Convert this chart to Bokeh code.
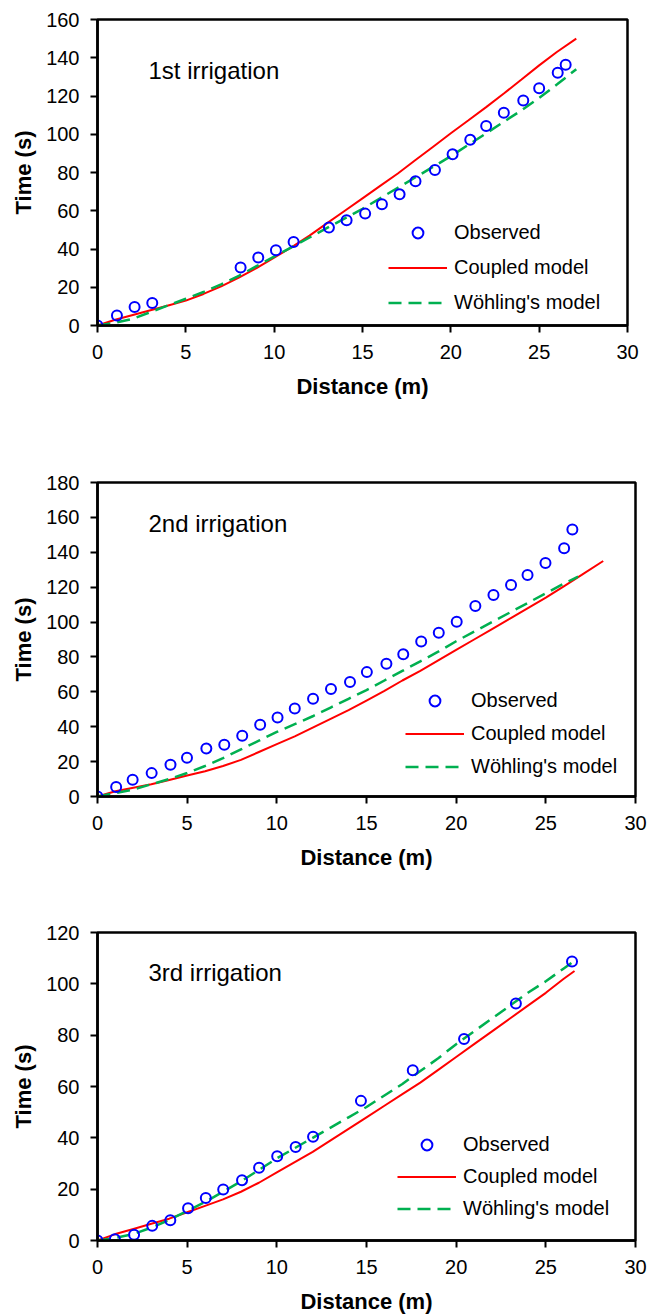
from bokeh.plotting import figure
from bokeh.models import Range1d, Legend, LegendItem, Label, FixedTicker
from bokeh.layouts import column
from bokeh.embed import file_html
from bokeh.resources import INLINE

# ---------------- data ----------------
# 1st irrigation
obs1_x = [0, 1.1, 2.1, 3.1, 8.1, 9.1, 10.1, 11.1, 13.1, 14.1, 15.15, 16.1, 17.1, 18.0, 19.1, 20.1, 21.1, 22.0, 23.0, 24.1, 25.0, 26.05, 26.5]
obs1_y = [0, 5.2, 9.7, 11.8, 30.3, 35.5, 39.3, 43.7, 51.2, 55.0, 58.5, 63.4, 68.6, 75.4, 81.3, 89.5, 97.1, 104.3, 111.2, 117.7, 124.0, 132.1, 136.3]
cpl1_x = [0, 1, 2, 3, 4, 5, 6, 7, 8, 9, 10, 11, 12, 13, 14, 15, 16, 17, 18, 19, 20, 21, 22, 23, 24, 25, 26, 27.1]
cpl1_y = [0, 3, 5.5, 8, 10.5, 13, 16.5, 20.5, 25, 30, 35.5, 41, 47, 53.5, 60, 66.5, 73, 79.5, 86.5, 93.5, 100.5, 107.3, 114.2, 121.3, 128.6, 136.0, 143.0, 150]
woh1_x = [0, 1, 2, 3, 4, 5, 6, 7, 8, 9, 10, 11, 12, 13, 14, 15, 16, 17, 18, 19, 20, 21, 22, 23, 24, 25, 26, 27.1]
woh1_y = [0, 1.5, 3.5, 7, 10.5, 14, 17.5, 21.5, 26, 31, 36, 41, 46, 51, 56, 61, 66.5, 72, 77.5, 83, 88.5, 94.5, 100.5, 106.5, 112.5, 119, 126, 134]

# 2nd irrigation
obs2_x = [0, 1.04, 1.96, 3.02, 4.07, 4.99, 6.07, 7.07, 8.07, 9.07, 10.04, 11.0, 12.02, 13.02, 14.08, 15.02, 16.11, 17.05, 18.05, 19.03, 20.03, 21.07, 22.08, 23.06, 23.98, 24.98, 26.02, 26.48]
obs2_y = [0, 5.4, 9.6, 13.4, 18.2, 22.2, 27.5, 29.6, 34.8, 41.1, 45.3, 50.5, 56.0, 61.6, 65.6, 71.3, 76.1, 81.5, 88.9, 93.9, 100.2, 109.2, 115.5, 121.3, 127.0, 133.9, 142.3, 153.0]
cpl2_x = [0, 1, 2, 3, 4, 5, 6, 7, 8, 9, 10, 11, 12, 13, 14, 15, 16, 17, 18, 19, 20, 21, 22, 23, 24, 25, 26, 27, 28.2]
cpl2_y = [0, 3, 5, 7, 9.5, 12, 14.5, 17.5, 21, 25.5, 30, 34.5, 39.5, 44.5, 49.5, 55, 60.5, 66.5, 72, 78, 84, 90, 96, 102, 108, 114, 120.5, 127, 135]
woh2_x = [0, 1, 2, 3, 4, 5, 6, 7, 8, 9, 10, 11, 12, 13, 14, 15, 16, 17, 18, 19, 20, 21, 22, 23, 24, 25, 26, 26.8]
woh2_y = [0, 2, 4, 7, 10, 13.5, 17.5, 22, 27, 32, 37, 41.5, 46, 51, 56, 61, 66.5, 72, 77.5, 83, 89, 94.5, 100, 105.5, 111, 116.5, 122, 126]

# 3rd irrigation
obs3_x = [0, 0.97, 2.04, 3.05, 4.06, 5.05, 6.04, 7.01, 8.06, 9.01, 10.02, 11.05, 12.02, 14.69, 17.58, 20.44, 23.33, 26.46]
obs3_y = [0, 0.5, 2.2, 5.7, 7.9, 12.6, 16.6, 19.9, 23.5, 28.3, 32.8, 36.4, 40.4, 54.4, 66.3, 78.5, 92.3, 108.7]
cpl3_x = [0, 1, 2, 3, 4, 5, 6, 7, 8, 9, 10, 11, 12, 13, 14, 15, 16, 17, 18, 19, 20, 21, 22, 23, 24, 25, 26, 26.6]
cpl3_y = [0, 2.5, 4.5, 6.5, 8.5, 11, 13.5, 16, 19, 22.5, 26.5, 30.5, 34.5, 39, 43.5, 48, 52.5, 57, 61.5, 66.5, 71.5, 76.5, 81.5, 86.5, 91.5, 96.5, 102, 105]
woh3_x = [0, 1, 2, 3, 4, 5, 6, 7, 8, 9, 10, 11, 12, 13, 14, 15, 16, 17, 18, 19, 20, 21, 22, 23, 24, 25, 26, 26.6]
woh3_y = [0, 1, 2.5, 5, 8, 11.5, 15, 19, 23, 27.5, 32, 36, 40, 44, 48, 52, 56.5, 61, 66, 71, 76.5, 81.5, 86.5, 91.5, 96.5, 101, 106, 109]

titles = ["1st irrigation", "2nd irrigation", "3rd irrigation"]
y_max = [160, 180, 120]
x_ticks = [0, 5, 10, 15, 20, 25, 30]
legend_labels = ["Observed", "Coupled model", "Wöhling's model"]

FONT = "Liberation Sans"


def make_panel(ox, oy, cx, cy, wx, wy, title, ymax, fw, fh, bl, br, bt, bb, leg_loc, leg_sp, title_pos):
    p = figure(frame_width=fw, frame_height=fh, min_border_left=bl, min_border_right=br,
               min_border_top=bt, min_border_bottom=bb,
               x_range=Range1d(0, 30), y_range=Range1d(0, ymax),
               output_backend="svg", toolbar_location=None, background_fill_color="white",
               border_fill_color="white")
    p.grid.visible = False
    p.outline_line_color = "black"
    p.outline_line_width = 2.5
    for ax in (p.xaxis[0], p.yaxis[0]):
        ax.axis_line_width = 2.5
        ax.axis_line_color = "black"
        ax.major_tick_line_width = 2
        ax.major_tick_out = 7
        ax.major_tick_in = 0
        ax.minor_tick_line_color = None
        ax.major_label_text_font = FONT
        ax.major_label_text_font_size = "20px"
        ax.major_label_text_color = "black"
        ax.axis_label_text_font = FONT
        ax.axis_label_text_font_size = "22px"
        ax.axis_label_text_font_style = "bold"
        ax.axis_label_text_color = "black"
    p.xaxis.ticker = FixedTicker(ticks=x_ticks)
    p.yaxis.ticker = FixedTicker(ticks=list(range(0, ymax + 1, 20)))
    p.xaxis.axis_label = "Distance (m)"
    p.yaxis.axis_label = "Time (s)"
    p.xaxis.major_label_standoff = 12
    p.yaxis.major_label_standoff = 11
    p.xaxis.axis_label_standoff = 12
    p.yaxis.axis_label_standoff = 7

    r_c = p.line(cx, cy, line_color="#FF0000", line_width=2)
    r_w = p.line(wx, wy, line_color="#00B050", line_width=2.5, line_dash="13 7")
    r_o = p.scatter(ox, oy, marker="circle", size=10, fill_color=None,
                    line_color="#0000FF", line_width=2)

    legend = Legend(items=[LegendItem(label=legend_labels[0], renderers=[r_o]),
                           LegendItem(label=legend_labels[1], renderers=[r_c]),
                           LegendItem(label=legend_labels[2], renderers=[r_w])],
                    location=leg_loc, padding=0, margin=0, spacing=leg_sp,
                    glyph_width=59, glyph_height=27, label_height=30, label_standoff=7,
                    label_text_font=FONT, label_text_font_size="20px",
                    label_text_color="black",
                    border_line_color=None, background_fill_alpha=0)
    p.add_layout(legend, "center")

    p.add_layout(Label(x=title_pos[0], y=title_pos[1], x_units="screen", y_units="screen",
                       text=title, text_font=FONT, text_font_size="24px",
                       text_color="black", text_baseline="middle", text_align="left"))
    return p


p1 = make_panel(obs1_x, obs1_y, cpl1_x, cpl1_y, woh1_x, woh1_y, titles[0], y_max[0],
                530, 306, 97, 32, 19, 115, (291, 8), 5, (51, 255))
p2 = make_panel(obs2_x, obs2_y, cpl2_x, cpl2_y, woh2_x, woh2_y, titles[1], y_max[1],
                538, 314, 97, 24, 42, 94, (308, 15), 3, (51, 796 - 523))
p3 = make_panel(obs3_x, obs3_y, cpl3_x, cpl3_y, woh3_x, woh3_y, titles[2], y_max[2],
                538, 308, 97, 24, 42, 74, (300, 17), 2, (51, 1240 - 972))

layout = column(p1, p2, p3, spacing=0)
open("out.html", "w").write(file_html(layout, INLINE))
